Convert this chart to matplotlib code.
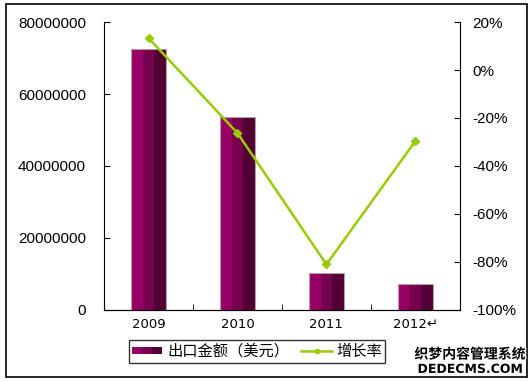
import numpy as np
import matplotlib.pyplot as plt
import matplotlib.patheffects as pe
from matplotlib.patches import Rectangle
from matplotlib.legend_handler import HandlerBase
from matplotlib.lines import Line2D

plt.rcParams['font.family'] = ['Liberation Sans', 'Noto Sans CJK SC', 'DejaVu Sans']

# data
years = ['2009', '2010', '2011', '2012\u21b5']
export_usd = [72500000, 53600000, 10300000, 7200000]
growth_pct = [13.3, -26.3, -81.0, -29.6]

bar_shades = ['#990066', '#760050', '#520033']
line_color = '#99cc00'


class ShadedBarHandler(HandlerBase):
    # legend key made of three vertical strips like the bars
    def create_artists(self, legend, orig_handle, xdescent, ydescent,
                       width, height, fontsize, trans):
        arts = []
        w = width / 3
        for i, c in enumerate(bar_shades):
            r = Rectangle((-xdescent + i * w, -ydescent + height * 0.15), w, height * 0.7,
                          facecolor=c, edgecolor='none', transform=trans)
            arts.append(r)
        return arts


fig = plt.figure(figsize=(5.31, 3.82), dpi=100)
ax = fig.add_axes([0.196, 0.1885, 0.670, 0.7539])

x = np.arange(len(years))
bar_w = 0.4
for i, c in enumerate(bar_shades):
    ax.bar(x - bar_w / 2 + i * bar_w / 3, export_usd, bar_w / 3,
           align='edge', color=c, zorder=2)
# thin grey outline around each bar
ax.bar(x, export_usd, bar_w, fill=False, edgecolor='#b0a0a8', linewidth=0.8, zorder=3)

ax.set_xlim(-0.5, len(years) - 0.5)
ax.set_ylim(0, 80000000)
ax.set_yticks(np.arange(0, 80000001, 20000000))
ax.set_yticklabels([f'{int(v)}' for v in np.arange(0, 80000001, 20000000)])
ax.set_xticks(x)
ax.set_xticklabels(years, family=['DejaVu Sans'])
ax.set_xticks(np.arange(0.5, len(years) - 1, 1), minor=True)
ax.tick_params(axis='x', which='major', length=0, pad=6, labelsize=9.5)
ax.tick_params(axis='x', which='minor', length=4, direction='in')
ax.tick_params(axis='y', direction='in', length=4, pad=13, labelsize=11)
ax.spines['top'].set_visible(False)
ax.spines['right'].set_visible(False)

ax2 = ax.twinx()
ax2.plot(x, growth_pct, color=line_color, linewidth=1.8, marker='D',
         markersize=4, zorder=4)
ax2.set_ylim(-100, 20)
ax2.set_yticks(np.arange(-100, 21, 20))
ax2.set_yticklabels([f'{v}%' for v in np.arange(-100, 21, 20)])
ax2.tick_params(axis='y', direction='in', length=4, pad=9, labelsize=11)
ax2.spines['top'].set_visible(False)
ax2.spines['left'].set_visible(False)

handles = [Rectangle((0, 0), 1, 1),
           Line2D([0], [0], color=line_color, linewidth=1.8, marker='o', markersize=3)]
leg = fig.legend(handles, ['出口金额（美元）', '增长率'],
                 handler_map={Rectangle: ShadedBarHandler()},
                 loc='center', bbox_to_anchor=(0.484, 0.08), ncol=2,
                 frameon=True, fancybox=False, edgecolor='black',
                 fontsize=11, handlelength=2.0, handletextpad=0.3,
                 columnspacing=0.8, borderpad=0.2)
leg.get_frame().set_linewidth(1.0)
for t in leg.get_texts():
    t.set_family(['Noto Sans CJK SC'])

# outer border of the picture
fig.patches.append(Rectangle((0.011, 0.012), 0.982, 0.978, transform=fig.transFigure,
                             fill=False, edgecolor='black', linewidth=1.2))

# site watermark
outline = [pe.withStroke(linewidth=2, foreground='white')]
fig.text(0.885, 0.072, '织梦内容管理系统', ha='center', va='center',
         fontsize=10, fontweight='bold', color='black',
         family=['Noto Sans CJK SC'], path_effects=outline)
fig.text(0.885, 0.033, 'DEDECMS.COM', ha='center', va='center',
         fontsize=9, fontweight='bold', color='black', family='DejaVu Sans',
         path_effects=outline)

fig.savefig('out.png', dpi=100)
